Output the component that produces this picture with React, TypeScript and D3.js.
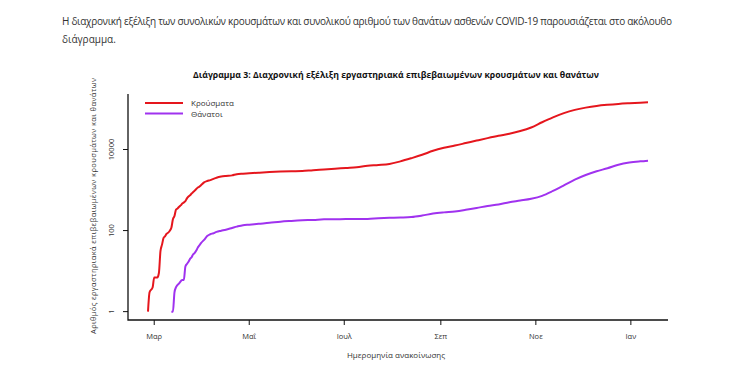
import React from "react";
import * as d3 from "d3";

// cumulative confirmed cases (date, value)
const caseDates = [
  "2020-02-26", "2020-02-27", "2020-02-29", "2020-03-01", "2020-03-03", "2020-03-04", "2020-03-05",
  "2020-03-06", "2020-03-07", "2020-03-08", "2020-03-09", "2020-03-10", "2020-03-11", "2020-03-12",
  "2020-03-13", "2020-03-14", "2020-03-15", "2020-03-16", "2020-03-17", "2020-03-18", "2020-03-19",
  "2020-03-20", "2020-03-21", "2020-03-22", "2020-03-23", "2020-03-24", "2020-03-25", "2020-03-26",
  "2020-03-27", "2020-03-28", "2020-03-29", "2020-03-30", "2020-03-31", "2020-04-02", "2020-04-04",
  "2020-04-06", "2020-04-08", "2020-04-10", "2020-04-13", "2020-04-16", "2020-04-20", "2020-04-23",
  "2020-04-27", "2020-05-01", "2020-05-07", "2020-05-14", "2020-05-21", "2020-05-28", "2020-06-04",
  "2020-06-11", "2020-06-18", "2020-06-25", "2020-07-02", "2020-07-09", "2020-07-16", "2020-07-23",
  "2020-07-30", "2020-08-06", "2020-08-13", "2020-08-20", "2020-08-27", "2020-09-03", "2020-09-10",
  "2020-09-17", "2020-09-24", "2020-10-01", "2020-10-08", "2020-10-15", "2020-10-22", "2020-10-29",
  "2020-11-05", "2020-11-12", "2020-11-19", "2020-11-26", "2020-12-03", "2020-12-10", "2020-12-17",
  "2020-12-24", "2020-12-31", "2021-01-07", "2021-01-12",
];
const caseValues = [
  1, 3, 4, 7, 7, 9, 31,
  45, 66, 73, 84, 89, 99, 117,
  190, 228, 331, 352, 387, 418, 464,
  495, 530, 624, 695, 743, 821, 892,
  966, 1061, 1156, 1212, 1314, 1544, 1673,
  1755, 1884, 2011, 2145, 2224, 2300, 2463,
  2534, 2591, 2678, 2770, 2850, 2909, 2952,
  3089, 3203, 3343, 3511, 3672, 3964, 4135,
  4390, 5100, 6100, 7400, 9300, 11000, 12500,
  14400, 16600, 19100, 21800, 24500, 28500, 35000,
  47000, 62000, 79000, 95000, 108000, 119000, 127000,
  133500, 138500, 143000, 145500,
];

// cumulative deaths (date, value)
const deathDates = [
  "2020-03-12", "2020-03-13", "2020-03-14", "2020-03-15", "2020-03-17", "2020-03-19", "2020-03-20",
  "2020-03-21", "2020-03-22", "2020-03-23", "2020-03-24", "2020-03-25", "2020-03-26", "2020-03-27",
  "2020-03-28", "2020-03-29", "2020-03-30", "2020-03-31", "2020-04-02", "2020-04-04", "2020-04-06",
  "2020-04-08", "2020-04-10", "2020-04-13", "2020-04-16", "2020-04-20", "2020-04-23", "2020-04-27",
  "2020-05-01", "2020-05-07", "2020-05-14", "2020-05-21", "2020-05-28", "2020-06-04", "2020-06-11",
  "2020-06-18", "2020-06-25", "2020-07-02", "2020-07-09", "2020-07-16", "2020-07-23", "2020-07-30",
  "2020-08-06", "2020-08-13", "2020-08-20", "2020-08-27", "2020-09-03", "2020-09-10", "2020-09-17",
  "2020-09-24", "2020-10-01", "2020-10-08", "2020-10-15", "2020-10-22", "2020-10-29", "2020-11-05",
  "2020-11-12", "2020-11-19", "2020-11-26", "2020-12-03", "2020-12-10", "2020-12-17", "2020-12-24",
  "2020-12-31", "2021-01-07", "2021-01-12",
];
const deathValues = [
  1, 1, 3, 4, 5, 6, 6,
  13, 15, 17, 20, 22, 26, 28,
  32, 38, 43, 49, 59, 73, 81,
  86, 93, 99, 105, 116, 125, 136,
  140, 147, 155, 166, 173, 179, 183,
  189, 191, 192, 193, 194, 201, 206,
  210, 216, 235, 262, 281, 297, 325,
  361, 405, 441, 500, 550, 610, 720,
  950, 1300, 1800, 2350, 2900, 3450, 4200,
  4750, 5100, 5300,
];

const tickDates = ["2020-03-01", "2020-05-01", "2020-07-01", "2020-09-01", "2020-11-01", "2021-01-01"];
const tickLabels = ["Μαρ", "Μαΐ", "Ιουλ", "Σεπ", "Νοε", "Ιαν"];
const yTicks = [1, 100, 10000];

const seriesNames = ["Κρούσματα", "Θάνατοι"];
const seriesColors = ["#e5161d", "#a032ef"];

const W = 734;
const H = 374;
const left = 128, right = 668, top = 94, bottom = 320;

const parse = d3.timeParse("%Y-%m-%d");

export default function App() {
  const cases = caseDates.map((d, i) => ({ date: parse(d) as Date, value: caseValues[i] }));
  const deaths = deathDates.map((d, i) => ({ date: parse(d) as Date, value: deathValues[i] }));

  // R-style 4% padding on both axes
  const t0 = +(parse("2020-02-26") as Date);
  const t1 = +(parse("2021-01-12") as Date);
  const pad = (t1 - t0) * 0.04;
  const x = d3.scaleTime().domain([new Date(t0 - pad), new Date(t1 + pad)]).range([left, right]);

  const lmax = Math.log10(d3.max(caseValues) as number);
  const y = d3.scaleLog()
    .domain([Math.pow(10, -0.04 * lmax), Math.pow(10, lmax * 1.04)])
    .range([bottom, top]);

  const line = d3.line<{ date: Date; value: number }>()
    .x(d => x(d.date))
    .y(d => y(d.value))
    .curve(d3.curveMonotoneX);

  const series = [cases, deaths];
  const font = "'Open Sans', 'DejaVu Sans', sans-serif";

  return (
    <svg width={W} height={H} style={{ position: "absolute", left: 0, top: 0, background: "#fff" }} fontFamily={font}>
      <text x={62} y={25} fontSize={10} fill="#333" textLength={610} lengthAdjust="spacing">
        Η διαχρονική εξέλιξη των συνολικών κρουσμάτων και συνολικού αριθμού των θανάτων ασθενών COVID-19 παρουσιάζεται στο ακόλουθο
      </text>
      <text x={62} y={43} fontSize={10} fill="#333">διάγραμμα.</text>

      <text x={396} y={78} fontSize={9} fontWeight="bold" fill="#111" textAnchor="middle" textLength={406} lengthAdjust="spacingAndGlyphs">
        Διάγραμμα 3: Διαχρονική εξέλιξη εργαστηριακά επιβεβαιωμένων κρουσμάτων και θανάτων
      </text>

      {/* axes */}
      <path d={`M${left},${top}V${bottom}H${right}`} fill="none" stroke="#111" strokeWidth={1.3} />
      {tickDates.map((d, i) => {
        const px = x(parse(d) as Date);
        return (
          <g key={d}>
            <line x1={px} x2={px} y1={bottom} y2={bottom + 5} stroke="#111" />
            <text x={px} y={339} fontSize={7.5} fill="#333" textAnchor="middle">{tickLabels[i]}</text>
          </g>
        );
      })}
      {yTicks.map(v => {
        const py = y(v);
        return (
          <g key={v}>
            <line x1={left - 5} x2={left} y1={py} y2={py} stroke="#111" />
            <text transform={`translate(114,${py}) rotate(-90)`} fontSize={7.5} fill="#333" textAnchor="middle">{v}</text>
          </g>
        );
      })}

      <text x={396} y={358} fontSize={8} fill="#333" textAnchor="middle">Ημερομηνία ανακοίνωσης</text>
      <text transform="translate(96,206) rotate(-90)" fontSize={7.5} fill="#333" textAnchor="middle" textLength={256} lengthAdjust="spacing">
        Αριθμός εργαστηριακά επιβεβαιωμένων κρουσμάτων και θανάτων
      </text>

      {/* lines */}
      {series.map((s, i) => (
        <path key={i} d={line(s) as string} fill="none" stroke={seriesColors[i]} strokeWidth={2} strokeLinejoin="round" />
      ))}

      {/* legend */}
      {seriesNames.map((n, i) => (
        <g key={n}>
          <line x1={145} x2={183} y1={103 + i * 10.5} y2={103 + i * 10.5} stroke={seriesColors[i]} strokeWidth={2} />
          <text x={191} y={106 + i * 10.5} fontSize={8} fill="#333">{n}</text>
        </g>
      ))}
    </svg>
  );
}
